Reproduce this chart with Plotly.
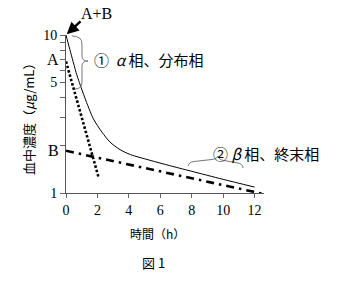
import plotly.graph_objects as go

# ---- data ----
time_ab = [0, 0.2, 0.4, 0.64, 0.85, 1.2, 1.74, 2.3, 2.8, 3.44, 4.1, 5.35, 6.6, 7.9, 10, 12]
conc_ab = [10, 8.4, 7.1, 5.8, 5.0, 4.0, 2.95, 2.42, 2.1, 1.88, 1.75, 1.61, 1.49, 1.38, 1.22, 1.09]
time_a = [0, 2.06]
conc_a = [6.8, 1.27]
time_b = [0, 12.5]
conc_b = [1.85, 0.99]
x_ticks = [0, 2, 4, 6, 8, 10, 12]
y_ticks = [1, 2, 3, 4, 5, 6, 7, 8, 9, 10]
y_ticktext = ["1", "", "", "", "5", "", "", "", "", "10"]

W, H = 340, 293
L, T, PW, PH = 66, 35, 198, 158

def px(x, y):
    return (x - L) / PW, (T + PH - y) / PH

def path(cmds):
    out = []
    for c in cmds:
        if isinstance(c, str):
            out.append(c)
        else:
            a, b = px(*c)
            out.append(f"{a:.4f},{b:.4f}")
    return " ".join(out)

serif = "Liberation Serif"
cjk = "Noto Sans CJK JP"

fig = go.Figure()
fig.add_trace(go.Scatter(x=time_ab, y=conc_ab, mode="lines",
                         line=dict(color="black", width=1, shape="spline", smoothing=0.7)))
fig.add_trace(go.Scatter(x=time_a, y=conc_a, mode="lines", line=dict(color="black", width=2.6, dash="2.5px,2px")))
fig.add_trace(go.Scatter(x=time_b, y=conc_b, mode="lines", line=dict(color="black", width=2.6, dash="8px,5px,2.5px,5px")))

fig.update_layout(
    width=W, height=H, showlegend=False,
    margin=dict(l=L, r=W - L - PW, t=T, b=H - T - PH, pad=0),
    paper_bgcolor="white", plot_bgcolor="white",
    xaxis=dict(range=[0, 12.6], tickvals=x_ticks, ticks="outside", ticklen=4, tickcolor="#666",
               showline=True, linecolor="#555", linewidth=1, showgrid=False, zeroline=False,
               tickfont=dict(family=serif, size=14, color="black")),
    yaxis=dict(type="log", range=[0, 1], tickvals=y_ticks, ticktext=y_ticktext, ticks="outside",
               ticklen=5, tickcolor="#666", showline=True, linecolor="#555", linewidth=1,
               showgrid=False, zeroline=False, tickfont=dict(family=serif, size=14, color="black")),
)

ann = []
def text(x, y, s, size=14, family=serif, xanchor="center", angle=0):
    a, b = px(x, y)
    ann.append(dict(x=a, y=b, xref="paper", yref="paper", text=s, showarrow=False, xanchor=xanchor,
                    yanchor="middle", textangle=angle, font=dict(family=family, size=size, color="black")))

text(96, 14, "A+B", size=16)
text(53, 60, "A", size=16)
text(53, 150, "B", size=16)
text(92, 59.5, "①  <i>α</i> 相、分布相", size=15, family=cjk, xanchor="left")
text(211, 153, "② <i>β</i> 相、終末相", size=15, family=cjk, xanchor="left")
text(157, 233, "時間（h）", size=12, family=cjk)
text(28, 116, "血中濃度（<i>μ</i>g/mL）", size=13, family=cjk, angle=-90)
text(153, 262, "図 1", size=13, family=cjk)

# arrow to A+B start
ann.append(dict(x=0, y=1, xref="x", yref="y", ax=16, ay=-15, text="", showarrow=True,
                arrowhead=2, arrowsize=1, arrowwidth=2.4, arrowcolor="black", standoff=1))
fig.update_layout(annotations=ann)

brace1 = path(["M", (72, 36), "Q", (82, 36), (82, 44), "L", (82, 56), "Q", (82, 61), (88, 61),
               "Q", (82, 61), (82, 66), "L", (82, 82), "Q", (82, 89), (75, 89)])
brace2 = path(["M", (188, 166), "Q", (189, 162), (194, 161.5), "L", (212, 159.5), "Q", (217, 159.5), (218, 156),
               "Q", (219, 160), (224, 160.5), "L", (238, 163), "Q", (243, 164), (243, 168)])
for p in (brace1, brace2):
    fig.add_shape(type="path", path=p, xref="paper", yref="paper", line=dict(color="#777", width=1))

fig.write_html("out.html")
